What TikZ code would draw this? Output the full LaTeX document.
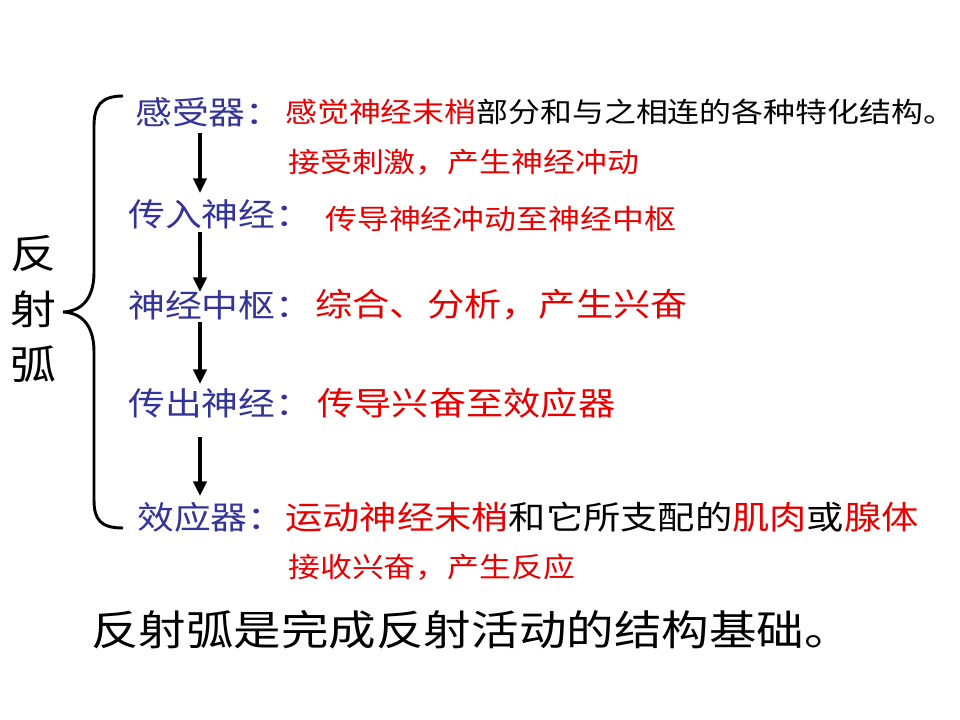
\documentclass[tikz,border=0pt]{standalone}
\usepackage{fontspec}
\usetikzlibrary{arrows.meta}
\newfontfamily\cjk[FakeStretch=1.15]{Noto Sans CJK SC}
\definecolor{lblblue}{RGB}{51,51,153}
\definecolor{txtred}{RGB}{230,0,0}
\tikzset{
  lbl/.style={anchor=west,inner sep=0pt,text=lblblue,font=\cjk\fontsize{24pt}{28pt}\selectfont},
  bigtxt/.style={anchor=west,inner sep=0pt,text=txtred,font=\cjk\fontsize{24.3pt}{28pt}\selectfont},
  smalltxt/.style={anchor=west,inner sep=0pt,text=txtred,font=\cjk\fontsize{20.8pt}{24pt}\selectfont},
  flow/.style={line width=2.4pt,-{Triangle[width=10pt,length=11pt]}},
  bracepath/.style={line width=2.2pt}
}
\begin{document}
\begin{tikzpicture}[x=0.75pt,y=-0.75pt]
\useasboundingbox (0,0) rectangle (960,720);
% title column
\node[inner sep=0pt,font=\cjk\fontsize{30pt}{34pt}\selectfont] (t1) at (34,254) {反};
\node[inner sep=0pt,font=\cjk\fontsize{30pt}{34pt}\selectfont] (t2) at (34,309) {射};
\node[inner sep=0pt,font=\cjk\fontsize{30pt}{34pt}\selectfont] (t3) at (34,364) {弧};
% brace
\draw[bracepath] (123,96) .. controls (101,96) and (94,106) .. (94,126) -- (94,272)
  .. controls (94,296) and (84,311) .. (63,312)
  .. controls (84,313) and (94,328) .. (94,352) -- (94,500)
  .. controls (94,520) and (101,528) .. (123,528);
% rows
\node[lbl] (r1) at (135,112) {感受器：};
\node[smalltxt] (d1) at (285,112) {感觉神经末梢\textcolor{black}{部分和与之相连的各种特化结构。}};
\node[smalltxt] (d1b) at (288,162) {接受刺激，产生神经冲动};
\node[lbl] (r2) at (128,214) {传入神经：};
\node[smalltxt] (d2) at (325,219) {传导神经冲动至神经中枢};
\node[lbl] (r3) at (128,305) {神经中枢：};
\node[bigtxt] (d3) at (315,305) {综合、分析，产生兴奋};
\node[lbl] (r4) at (128,403) {传出神经：};
\node[bigtxt] (d4) at (317,403) {传导兴奋至效应器};
\node[lbl] (r5) at (137,517) {效应器：};
\node[bigtxt] (d5) at (285,517) {运动神经末梢\textcolor{black}{和它所支配的}肌肉\textcolor{black}{或}腺体};
\node[smalltxt] (d5b) at (288,567) {接收兴奋，产生反应};
\node[anchor=west,inner sep=0pt,font=\cjk\fontsize{31pt}{34pt}\selectfont] (sum) at (91,630) {反射弧是完成反射活动的结构基础。};
% arrows
\coordinate (a1s) at (200,133); \coordinate (a1e) at (200,193);
\coordinate (a2s) at (200,232); \coordinate (a2e) at (200,292);
\coordinate (a3s) at (200,322); \coordinate (a3e) at (200,384);
\coordinate (a4s) at (200,437); \coordinate (a4e) at (200,496);
\draw[flow] (a1s) -- (a1e);
\draw[flow] (a2s) -- (a2e);
\draw[flow] (a3s) -- (a3e);
\draw[flow] (a4s) -- (a4e);
\end{tikzpicture}
\end{document}
